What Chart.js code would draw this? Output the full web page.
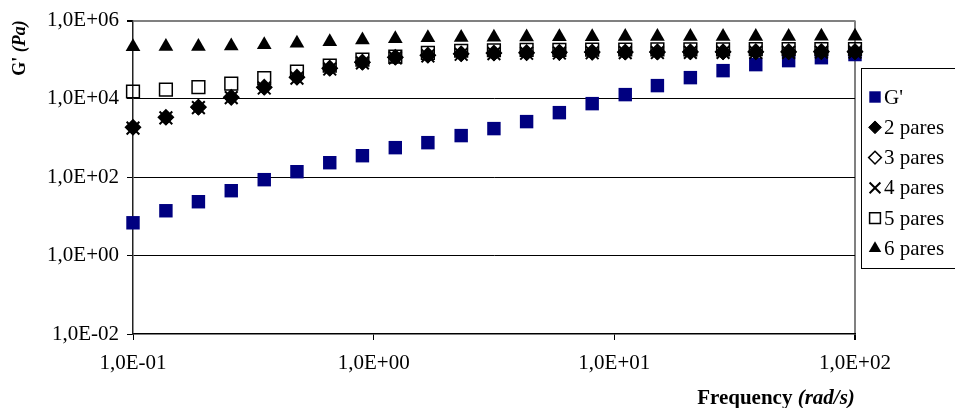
<!DOCTYPE html>
<html>
<head>
<meta charset="utf-8">
<script src="https://cdn.jsdelivr.net/npm/chart.js@4.4.1/dist/chart.umd.min.js"></script>
<style>
  html, body { margin: 0; padding: 0; background: #fff; overflow: hidden; }
  #wrap { position: relative; width: 955px; height: 408px; }
</style>
</head>
<body>
<div id="wrap"><canvas id="gChart" width="955" height="408"></canvas></div>
<script>
// Frequencies (rad/s)
const frequency = [0.1, 0.137, 0.187, 0.256, 0.351, 0.48, 0.657, 0.898, 1.23, 1.68, 2.31, 3.16,
  4.32, 5.91, 8.09, 11.1, 15.1, 20.7, 28.3, 38.7, 53, 72.5, 100];

// G' values per series (Pa)
const gPrime = [6.9, 14, 23.8, 45.5, 87, 139, 236, 356, 571, 766, 1160, 1750,
  2640, 4470, 7590, 12900, 21900, 35000, 52800, 75200, 95100, 113000, 136000];
const pares2 = [1860, 3350, 6050, 10900, 19500, 35100, 59700, 84900, 114000, 128000, 140000, 145000,
  148000, 150000, 152000, 153000, 154000, 155000, 155000, 156000, 156000, 157000, 157000];
const pares3 = [1900, 3400, 6200, 11000, 20000, 36000, 61000, 87000, 116000, 131000, 143000, 149000,
  152000, 155000, 157000, 158000, 159000, 160000, 160000, 161000, 161000, 162000, 162000];
const pares4 = [1800, 3300, 6000, 10800, 19000, 34000, 58000, 83000, 112000, 126000, 138000, 144000,
  147000, 149000, 151000, 152000, 153000, 154000, 154000, 155000, 155000, 156000, 156000];
const pares5 = [15500, 17400, 20100, 24700, 34100, 50000, 71100, 101000, 121000, 150000, 170000, 175000,
  178000, 180000, 182000, 183000, 184000, 185000, 185000, 186000, 186000, 187000, 187000];
const pares6 = [215000, 217000, 219000, 225000, 243000, 265000, 290000, 320000, 345000, 365000, 372000, 378000,
  382000, 385000, 388000, 390000, 392000, 393000, 394000, 395000, 395000, 396000, 396000];

const seriesNames = ["G'", "2 pares", "3 pares", "4 pares", "5 pares", "6 pares"];
const yTicks = [1e-2, 1e0, 1e2, 1e4, 1e6];
const xTicks = [0.1, 1, 10, 100];

const serif = "'Liberation Serif', 'Times New Roman', serif";

// 1e6 -> "1,0E+06"
function fmtSci(v) {
  const e = Math.round(Math.log10(v));
  const sign = e < 0 ? "-" : "+";
  return "1,0E" + sign + String(Math.abs(e)).padStart(2, "0");
}

function toPoints(values) {
  return values.map((v, i) => ({ x: frequency[i], y: v }));
}

const markerStyles = [
  { pointStyle: "rect", radius: 9.5, fill: "#000080", stroke: "#000080", width: 0 },
  { pointStyle: "rectRot", radius: 7.5, fill: "#000", stroke: "#000", width: 1 },
  { pointStyle: "rectRot", radius: 7.5, fill: "rgba(0,0,0,0)", stroke: "#000", width: 1.5 },
  { pointStyle: "crossRot", radius: 9, fill: "#000", stroke: "#000", width: 2 },
  { pointStyle: "rect", radius: 9, fill: "rgba(0,0,0,0)", stroke: "#000", width: 1.5 },
  { pointStyle: "triangle", radius: 8.5, fill: "#000", stroke: "#000", width: 0 },
];

const seriesValues = [gPrime, pares2, pares3, pares4, pares5, pares6];

const datasets = seriesValues.map((vals, i) => {
  const m = markerStyles[i];
  return {
    label: seriesNames[i],
    data: toPoints(vals),
    showLine: false,
    pointStyle: m.pointStyle,
    pointRadius: m.radius,
    pointBackgroundColor: m.fill,
    pointBorderColor: m.stroke,
    pointBorderWidth: m.width,
    clip: false,
    order: seriesValues.length - i, // later series drawn on top
  };
});

function drawMarker(ctx, m, x, y, r) {
  const opts = { pointStyle: m.pointStyle, radius: r, rotation: 0, borderWidth: m.width };
  ctx.save();
  ctx.fillStyle = m.fill;
  ctx.strokeStyle = m.stroke;
  ctx.lineWidth = m.width;
  if (Chart.helpers && Chart.helpers.drawPoint) {
    Chart.helpers.drawPoint(ctx, opts, x, y);
  } else {
    ctx.beginPath();
    ctx.arc(x, y, r * 0.7, 0, Math.PI * 2);
    ctx.fill();
  }
  ctx.restore();
}

// axis titles and legend box
const decorPlugin = {
  id: "decor",
  afterDraw(chart) {
    const ctx = chart.ctx;
    ctx.save();
    ctx.fillStyle = "#000";
    ctx.textBaseline = "alphabetic";

    // x title
    const boldF = "bold 21px " + serif;
    const italF = "italic bold 21px " + serif;
    ctx.font = boldF;
    const w1 = ctx.measureText("Frequency ").width;
    ctx.font = italF;
    const w2 = ctx.measureText("(rad/s)").width;
    let x0 = 776 - (w1 + w2) / 2;
    ctx.font = boldF;
    ctx.fillText("Frequency ", x0, 404);
    ctx.font = italF;
    ctx.fillText("(rad/s)", x0 + w1, 404);

    // y title (rotated)
    ctx.save();
    ctx.translate(25, 48);
    ctx.rotate(-Math.PI / 2);
    const yb = "bold 18px " + serif;
    const yi = "italic bold 18px " + serif;
    ctx.font = yb;
    const a1 = ctx.measureText("G' ").width;
    ctx.font = yi;
    const a2 = ctx.measureText("(Pa)").width;
    const s0 = -(a1 + a2) / 2;
    ctx.font = yb;
    ctx.fillText("G' ", s0, 0);
    ctx.font = yi;
    ctx.fillText("(Pa)", s0 + a1, 0);
    ctx.restore();

    // legend
    ctx.strokeStyle = "#000";
    ctx.lineWidth = 1;
    ctx.strokeRect(861.5, 68.5, 120, 200);
    ctx.font = "21px " + serif;
    ctx.textBaseline = "middle";
    seriesNames.forEach((name, i) => {
      const y = 97 + i * 30.3;
      drawMarker(ctx, markerStyles[i], 875, y, markerStyles[i].radius * 0.85);
      ctx.fillStyle = "#000";
      ctx.fillText(name, 884, y + 1);
    });
    ctx.restore();
  },
};

const ctx = document.getElementById("gChart").getContext("2d");
new Chart(ctx, {
  type: "scatter",
  data: { datasets },
  options: {
    responsive: false,
    animation: false,
    layout: { padding: { top: 20, right: 100, left: 0, bottom: 0 } },
    plugins: {
      legend: { display: false },
      tooltip: { enabled: false },
    },
    scales: {
      x: {
        type: "logarithmic",
        min: 0.1,
        max: 100,
        afterBuildTicks: (s) => { s.ticks = xTicks.map((v) => ({ value: v })); },
        afterFit: (s) => { s.height = 74; },
        ticks: {
          callback: (v) => fmtSci(v),
          font: { family: serif, size: 21 },
          color: "#000",
          padding: 11,
          maxRotation: 0,
          autoSkip: false,
        },
        grid: {
          color: (c) => (c.tick && c.tick.value === 100 ? "#808080" : "rgba(0,0,0,0)"),
          lineWidth: (c) => (c.tick && c.tick.value === 100 ? 2 : 1),
          tickColor: "#000",
          tickLength: 6,
        },
        border: { color: "#000", width: 1.5 },
      },
      y: {
        type: "logarithmic",
        min: 1e-2,
        max: 1e6,
        afterBuildTicks: (s) => { s.ticks = yTicks.map((v) => ({ value: v })); },
        afterFit: (s) => { s.width = 133; },
        ticks: {
          callback: (v) => fmtSci(v),
          font: { family: serif, size: 21 },
          color: "#000",
          padding: 8,
          autoSkip: false,
        },
        grid: {
          color: (c) => {
            if (!c.tick) return "rgba(0,0,0,0)";
            if (c.tick.value === 1e6) return "#808080";
            if (c.tick.value === 1e-2) return "rgba(0,0,0,0)";
            return "#000";
          },
          lineWidth: (c) => (c.tick && c.tick.value === 1e6 ? 2 : 1),
          tickColor: "#000",
          tickLength: 6,
        },
        border: { color: "#222", width: 1.5 },
      },
    },
  },
  plugins: [decorPlugin],
});
</script>
</body>
</html>
